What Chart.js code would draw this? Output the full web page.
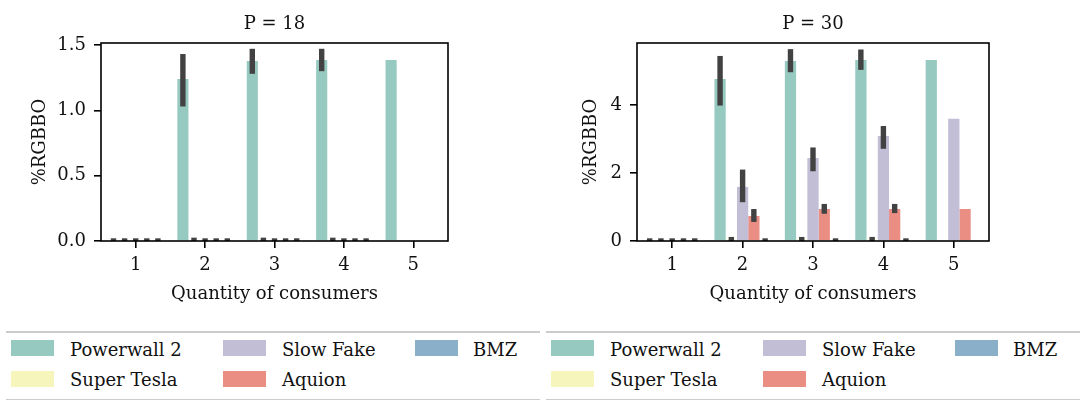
<!DOCTYPE html>
<html>
<head>
<meta charset="utf-8">
<script src="https://cdn.jsdelivr.net/npm/chart.js"></script>
<style>
  body { margin: 0; width: 1080px; height: 400px; background: #fff; position: relative; overflow: hidden; font-family: "DejaVu Serif", serif; }
  .panel { position: absolute; top: 0; width: 540px; height: 320px; }
  .legend { position: absolute; top: 331px; height: 66px; border-top: 2px solid #cccccc; border-bottom: 2px solid #cccccc; }
  .swatch { position: absolute; width: 43px; height: 16px; }
  .label { position: absolute; font-size: 18px; line-height: 18px; color: #111; white-space: nowrap; }
</style>
</head>
<body>
<div class="panel" style="left:0"><canvas id="p18"></canvas></div>
<div class="panel" style="left:540px"><canvas id="p30"></canvas></div>
<div class="legend" id="leg18" style="left:6px; width:534px"></div>
<div class="legend" id="leg30" style="left:546px; width:534px"></div>
<script>
const categories = ['1', '2', '3', '4', '5'];
const seriesNames = ['Powerwall 2', 'Super Tesla', 'Slow Fake', 'Aquion', 'BMZ'];
const seriesColors = ['rgb(150,202,193)', 'rgb(246,246,188)', 'rgb(193,190,214)', 'rgb(234,141,131)', 'rgb(138,175,201)'];

// P = 18 : mean %RGBBO per quantity of consumers
const p18Powerwall = [0, 1.24, 1.377, 1.385, 1.385];
const p18SuperTesla = [0, 0.005, 0.005, 0.005, 0];
const p18SlowFake = [0, 0, 0, 0, 0];
const p18Aquion = [0, 0, 0, 0, 0];
const p18BMZ = [0, 0, 0, 0, 0];
// confidence intervals [low, high], null = no bar drawn
const p18PowerwallCI = [[0, 0], [1.05, 1.41], [1.30, 1.45], [1.32, 1.45], null];
const p18SuperTeslaCI = [[0, 0], [0.005, 0.005], [0.005, 0.005], [0.005, 0.005], null];
const p18SlowFakeCI = [[0, 0], [0, 0], [0, 0], [0, 0], null];
const p18AquionCI = [[0, 0], [0, 0], [0, 0], [0, 0], null];
const p18BMZCI = [[0, 0], [0, 0], [0, 0], [0, 0], null];

// P = 30
const p30Powerwall = [0, 4.76, 5.29, 5.32, 5.32];
const p30SuperTesla = [0, 0.04, 0.04, 0.04, 0];
const p30SlowFake = [0, 1.59, 2.44, 3.09, 3.59];
const p30Aquion = [0, 0.735, 0.94, 0.94, 0.94];
const p30BMZ = [0, 0, 0, 0, 0];
const p30PowerwallCI = [[0, 0], [4.06, 5.36], [5.04, 5.56], [5.11, 5.55], null];
const p30SuperTeslaCI = [[0, 0], [0.04, 0.04], [0.04, 0.04], [0.04, 0.04], null];
const p30SlowFakeCI = [[0, 0], [1.22, 2.02], [2.13, 2.67], [2.79, 3.30], null];
const p30AquionCI = [[0, 0], [0.64, 0.86], [0.88, 1.01], [0.90, 1.01], null];
const p30BMZCI = [[0, 0], [0, 0], [0, 0], [0, 0], null];

const FONT = '"DejaVu Serif", serif';

// error bars, axes frame and panel title
const extras = {
  id: 'extras',
  afterDatasetsDraw(chart) {
    const {ctx, chartArea: a, scales: {y}} = chart;
    ctx.save();
    ctx.beginPath();
    ctx.rect(a.left, a.top, a.right - a.left, a.bottom - a.top);
    ctx.clip();
    ctx.fillStyle = '#424242';
    const w = 5.4;
    chart.data.datasets.forEach((ds, i) => {
      const meta = chart.getDatasetMeta(i);
      ds.ci.forEach((ci, j) => {
        if (!ci) return;
        const x = meta.data[j].x;
        const yHi = y.getPixelForValue(ci[1]);
        const yLo = y.getPixelForValue(ci[0]);
        ctx.fillRect(x - w / 2, yHi - w / 2, w, yLo - yHi + w);
      });
    });
    ctx.restore();

    ctx.save();
    ctx.strokeStyle = '#000';
    ctx.lineWidth = 1.6;
    ctx.strokeRect(a.left, a.top, a.right - a.left, a.bottom - a.top);
    ctx.fillStyle = '#111';
    ctx.font = '18px ' + FONT;
    ctx.textAlign = 'center';
    ctx.textBaseline = 'alphabetic';
    ctx.fillText(chart.options.plugins.extras.title, (a.left + a.right) / 2, 29);
    ctx.restore();
  }
};

function makeChart(id, title, series, cis, yMax, step, decimals, padLeft, yWidth, padRight, titlePad) {
  const datasets = series.map((data, i) => ({
    label: seriesNames[i],
    data: data,
    ci: cis[i],
    backgroundColor: seriesColors[i],
    borderWidth: 0,
    categoryPercentage: 0.8,
    barPercentage: 1.0
  }));

  return new Chart(document.getElementById(id), {
    type: 'bar',
    data: { labels: categories, datasets: datasets },
    options: {
      responsive: true,
      maintainAspectRatio: false,
      animation: false,
      layout: { padding: { left: padLeft, right: padRight, top: 43, bottom: 0 } },
      plugins: {
        legend: { display: false },
        title: { display: false },
        tooltip: { enabled: false },
        extras: { title: title }
      },
      scales: {
        x: {
          grid: { display: true, drawOnChartArea: false, drawTicks: true, tickLength: 7, color: '#000', lineWidth: 1.6, offset: false },
          border: { display: false },
          ticks: { color: '#111', font: { family: FONT, size: 18 }, padding: 7 },
          title: { display: true, text: 'Quantity of consumers', color: '#111', font: { family: FONT, size: 18 }, padding: { top: 0, bottom: 15 } },
          afterFit: s => { s.height = 79; }
        },
        y: {
          min: 0,
          max: yMax,
          grid: { display: true, drawOnChartArea: false, drawTicks: true, tickLength: 7, color: '#000', lineWidth: 1.6 },
          border: { display: false },
          ticks: {
            stepSize: step,
            includeBounds: false,
            color: '#111',
            font: { family: FONT, size: 18 },
            padding: 8,
            callback: v => v.toFixed(decimals)
          },
          title: { display: true, text: '%RGBBO', color: '#111', font: { family: FONT, size: 18 }, padding: { top: titlePad, bottom: 0 } },
          afterFit: s => { s.width = yWidth; }
        }
      }
    },
    plugins: [extras]
  });
}

makeChart('p18', 'P = 18',
  [p18Powerwall, p18SuperTesla, p18SlowFake, p18Aquion, p18BMZ],
  [p18PowerwallCI, p18SuperTeslaCI, p18SlowFakeCI, p18AquionCI, p18BMZCI],
  1.515, 0.5, 1, 20, 81, 92, 10);

makeChart('p30', 'P = 30',
  [p30Powerwall, p30SuperTesla, p30SlowFake, p30Aquion, p30BMZ],
  [p30PowerwallCI, p30SuperTeslaCI, p30SlowFakeCI, p30AquionCI, p30BMZCI],
  5.82, 2, 0, 20, 77, 91, 21);

// legend: three columns, filled column by column
const colSwatchX = [5, 217, 409];
const colTextX = [64, 276, 467];
const rowSwatchY = [7, 38];
const rowTextY = [8, 38];

function buildLegend(id) {
  const box = document.getElementById(id);
  seriesNames.forEach((name, i) => {
    const col = Math.floor(i / 2), row = i % 2;
    const sw = document.createElement('div');
    sw.className = 'swatch';
    sw.style.left = colSwatchX[col] + 'px';
    sw.style.top = rowSwatchY[row] + 'px';
    sw.style.background = seriesColors[i];
    box.appendChild(sw);
    const lb = document.createElement('div');
    lb.className = 'label';
    lb.style.left = colTextX[col] + 'px';
    lb.style.top = rowTextY[row] + 'px';
    lb.textContent = name;
    box.appendChild(lb);
  });
}
buildLegend('leg18');
buildLegend('leg30');
</script>
</body>
</html>
